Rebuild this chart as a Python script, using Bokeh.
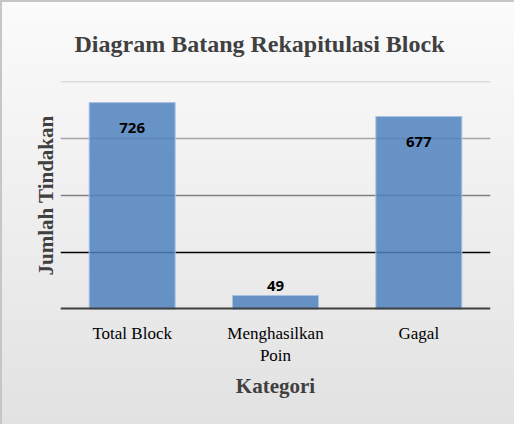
from bokeh.plotting import figure
from bokeh.models import ColumnDataSource, LabelSet, Span, FactorRange, FixedTicker
from bokeh.core.properties import value
from bokeh.embed import file_html
from bokeh.resources import INLINE

title_text = "Diagram Batang Rekapitulasi Block"
x_title = "Kategori"
y_title = "Jumlah Tindakan"
categories = ["Total Block", "Menghasilkan\nPoin", "Gagal"]
values = [726, 49, 677]
grid_values = [200, 400, 600, 800]
grid_colors = ["#000000", "#808080", "#a6a6a6", "#c4c4c4"]

SERIF = "Liberation Serif"

offsets = [-25 if v > 100 else 10 for v in values]
src = ColumnDataSource(dict(cat=categories, val=values,
                            lab=[str(v) for v in values], off=offsets))

p = figure(width=514, height=424, x_range=FactorRange(*categories), y_range=(0, 800),
           output_backend="svg", toolbar_location=None,
           min_border_left=60, min_border_right=24, min_border_top=81, min_border_bottom=115,
           styles={"background": "linear-gradient(#fbfbfb, #e2e2e2)",
                   "box-shadow": "inset 2px 2px 0 #c6c6c6"})
p.border_fill_alpha = 0
p.background_fill_alpha = 0
p.outline_line_color = None
p.xgrid.visible = False
p.ygrid.visible = False

for gv, gc in zip(grid_values, grid_colors):
    p.add_layout(Span(location=gv, dimension="width", line_color=gc, line_width=1.5, level="underlay"))

p.vbar(x="cat", top="val", width=0.6, source=src, fill_color="#4F81BD", fill_alpha=0.85,
       line_color="#a9c3e3", line_width=1)

p.add_layout(Span(location=0, dimension="width", line_color="#404040", line_width=4))

p.add_layout(LabelSet(x="cat", y="val", text="lab", y_offset="off", source=src,
                      text_align="center", text_baseline="middle",
                      text_font=value("Open Sans"), text_font_style="bold",
                      text_font_size="15px", text_color="#000000"))

p.title.text = title_text
p.title.align = "left"
p.title.offset = 14
p.title.text_font = SERIF
p.title.text_font_size = "24px"
p.title.text_font_style = "bold"
p.title.text_color = "#404040"
p.title.standoff = 50

p.xaxis.axis_line_color = None
p.xaxis.major_tick_line_color = None
p.xaxis.minor_tick_line_color = None
p.xaxis.major_label_standoff = 8
p.xaxis.major_label_text_font = SERIF
p.xaxis.major_label_text_font_size = "17px"
p.xaxis.major_label_text_color = "#000000"
p.xaxis.axis_label = x_title
p.xaxis.axis_label_text_font = SERIF
p.xaxis.axis_label_text_font_size = "21px"
p.xaxis.axis_label_text_font_style = "bold"
p.xaxis.axis_label_text_color = "#404040"
p.xaxis.axis_label_standoff = 6

p.yaxis.ticker = FixedTicker(ticks=[])
p.yaxis.axis_line_color = None
p.yaxis.major_tick_line_color = None
p.yaxis.minor_tick_line_color = None
p.yaxis.major_label_standoff = 0
p.yaxis.axis_label = y_title
p.yaxis.axis_label_text_font = SERIF
p.yaxis.axis_label_text_font_size = "21px"
p.yaxis.axis_label_text_font_style = "bold"
p.yaxis.axis_label_text_color = "#404040"
p.yaxis.axis_label_standoff = 3

open("out.html", "w").write(file_html(p, INLINE))
